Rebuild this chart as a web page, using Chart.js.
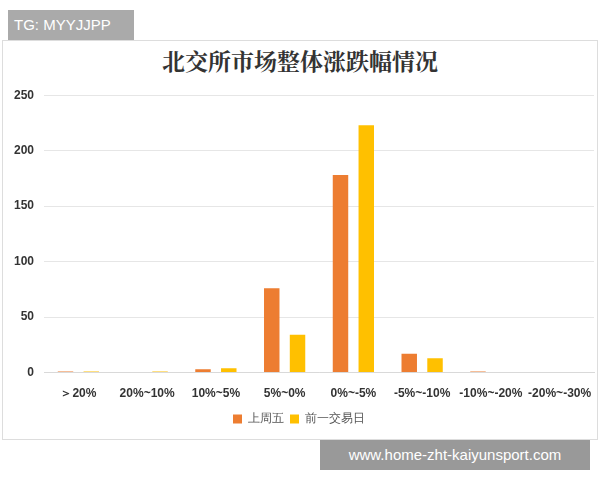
<!DOCTYPE html>
<html><head><meta charset="utf-8">
<script src="https://cdn.jsdelivr.net/npm/chart.js@4"></script>
<style>
body{margin:0;background:#fff;font-family:"Noto Sans CJK SC",sans-serif}
#box{position:absolute;left:2px;top:40px;width:594px;height:398px;border:1px solid #ddd;background:#fff}
#wrap{position:absolute;left:0;top:78px;width:598px;height:362px}
#title{position:absolute;left:0;top:44px;width:600px;text-align:center;font-family:"Noto Serif CJK SC","Noto Sans CJK SC",serif;font-weight:bold;font-size:23px;color:#333}
#tg{position:absolute;left:8px;top:10px;width:126px;height:30px;background:#aaa;color:#fff;font-family:Arial,sans-serif;font-size:15px;line-height:30px;padding-left:6px;box-sizing:border-box}
#wm{position:absolute;left:320px;top:440px;width:270px;height:30px;background:#999;color:#fff;font-family:Arial,sans-serif;font-size:15px;line-height:30px;text-align:center}
</style></head><body>
<div id="box"></div>
<div id="title">北交所市场整体涨跌幅情况</div>
<div id="wrap"><canvas id="c"></canvas></div>
<div id="tg">TG: MYYJJPP</div>
<div id="wm">www.home-zht-kaiyunsport.com</div>
<script>
const categories = ['＞20%','20%~10%','10%~5%','5%~0%','0%~-5%','-5%~-10%','-10%~-20%','-20%~-30%'];
const lastFriday = [1,0,3,76,178,17,1,0];
const prevDay = [1,1,4,34,223,13,0,0];

new Chart(document.getElementById('c'), {
  type: 'bar',
  data: {
    labels: categories,
    datasets: [
      {label: '上周五', data: lastFriday, backgroundColor: '#ed7d31', barPercentage: 0.6, categoryPercentage: 0.75},
      {label: '前一交易日', data: prevDay, backgroundColor: '#ffc000', barPercentage: 0.6, categoryPercentage: 0.75}
    ]
  },
  options: {
    responsive: true,
    maintainAspectRatio: false,
    animation: false,
    layout: {padding: {left: 4, right: 4, top: 6, bottom: 5}},
    scales: {
      x: {
        grid: {display: false},
        border: {color: '#d9d9d9'},
        ticks: {color: '#333', font: {size: 12, weight: 'bold'}, maxRotation: 0, autoSkip: false, padding: 6}
      },
      y: {
        min: 0, max: 250,
        ticks: {stepSize: 50, color: '#333', font: {size: 12, weight: 'bold'}, padding: 10},
        grid: {color: '#e6e6e6', drawTicks: false},
        border: {display: false}
      }
    },
    plugins: {
      legend: {
        position: 'bottom',
        labels: {boxWidth: 9, boxHeight: 9, color: '#555', font: {size: 12}, padding: 6}
      }
    }
  }
});
</script>
</body></html>
